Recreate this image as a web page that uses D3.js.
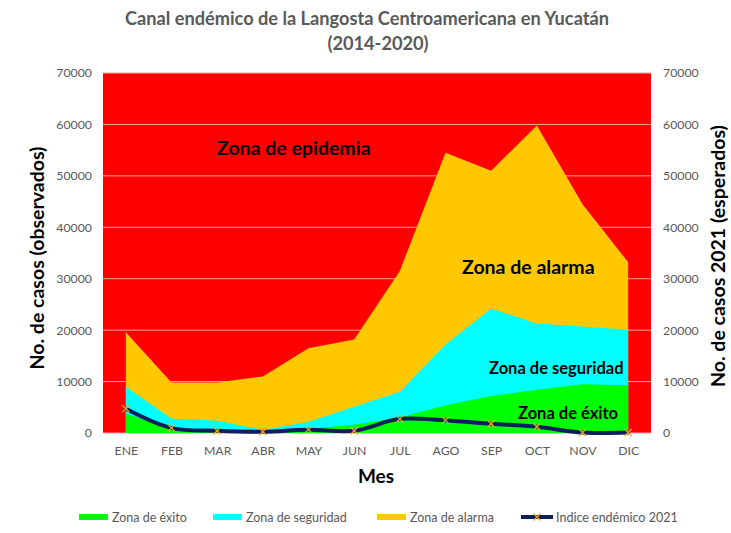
<!DOCTYPE html>
<html><head><meta charset="utf-8">
<script src="https://cdn.jsdelivr.net/npm/d3@7"></script>
<style>
body{margin:0;background:#fff;}
svg{font-family:Lato,"Open Sans",sans-serif;}
</style></head>
<body><svg id="c" width="731" height="533"></svg>
<script>
const months = ["ENE","FEB","MAR","ABR","MAY","JUN","JUL","AGO","SEP","OCT","NOV","DIC"];
const zonaAlarma = [19600,9800,9800,11000,16500,18200,31500,54500,51000,59800,44500,33200];
const zonaSeguridad = [9000,2800,2400,600,2200,5100,8000,17200,24200,21300,20700,20100];
const zonaExito = [3800,700,500,300,850,1600,3000,5400,7200,8400,9500,9300];
const indice2021 = [4700,950,450,250,650,450,2750,2450,1800,1200,100,100];
const yTicks = [0,10000,20000,30000,40000,50000,60000,70000];

const svg = d3.select("#c");
const L=103, R=651, T=73, B=433;
const x = d3.scalePoint().domain(months).range([L,R]).padding(0.5);
const y = d3.scaleLinear().domain([0,70000]).range([B,T]);
const gray="#595959";

// title
svg.append("text").attr("x",367).attr("y",25).attr("text-anchor","middle")
  .attr("font-size",18.2).attr("font-weight","bold").attr("fill",gray)
  .text("Canal endémico de la Langosta Centroamericana en Yucatán");
svg.append("text").attr("x",378).attr("y",50).attr("text-anchor","middle")
  .attr("font-size",18.2).attr("font-weight","bold").attr("fill",gray)
  .text("(2014-2020)");

// background (zona de epidemia)
svg.append("rect").attr("x",L).attr("y",T).attr("width",R-L).attr("height",B-T).attr("fill","#FF0000");
// gridlines
svg.append("g").selectAll("line").data(yTicks).join("line")
  .attr("x1",L).attr("x2",R).attr("y1",d=>y(d)).attr("y2",d=>y(d))
  .attr("stroke","#f7a3a3").attr("stroke-width",1);

const area = d3.area().x((d,i)=>x(months[i])).y0(B).y1(d=>y(d));
svg.append("path").datum(zonaAlarma).attr("d",area).attr("fill","#FFC800");
svg.append("path").datum(zonaSeguridad).attr("d",area).attr("fill","#00FFFF");
svg.append("path").datum(zonaExito).attr("d",area).attr("fill","#00FF00");

// line
const line = d3.line().x((d,i)=>x(months[i])).y(d=>y(d)).curve(d3.curveCatmullRom.alpha(0.5));
svg.append("path").datum(indice2021).attr("d",line).attr("fill","none")
  .attr("stroke","#0B1F5C").attr("stroke-width",4).attr("stroke-linecap","round");
const mk = svg.append("g");
indice2021.forEach((d,i)=>{
  const cx=x(months[i]), cy=y(d), s=3.5;
  mk.append("path").attr("d",`M${cx-s},${cy-s}L${cx+s},${cy+s}M${cx-s},${cy+s}L${cx+s},${cy-s}`)
    .attr("stroke","#F5A21B").attr("stroke-width",1.3);
});

// axes
const yl = d3.axisLeft(y).tickValues(yTicks).tickSize(0).tickPadding(11).tickFormat(d3.format("d"));
const gL = svg.append("g").attr("transform",`translate(${L},0)`).call(yl);
const yr = d3.axisRight(y).tickValues(yTicks).tickSize(0).tickPadding(12).tickFormat(d3.format("d"));
const gR = svg.append("g").attr("transform",`translate(${R},0)`).call(yr);
const xa = d3.axisBottom(x).tickSize(0).tickPadding(13);
const gX = svg.append("g").attr("transform",`translate(0,${B})`).call(xa);
[gL,gR,gX].forEach(g=>{
  g.select(".domain").remove();
  g.selectAll("text").attr("fill",gray).attr("font-size",12.3).attr("font-family","Lato,'Open Sans',sans-serif");
});

// axis titles
svg.append("text").attr("transform","translate(44,258) rotate(-90)").attr("text-anchor","middle")
  .attr("font-size",19.5).attr("font-weight","bold").attr("fill","#000").text("No. de casos (observados)");
svg.append("text").attr("transform","translate(725,256) rotate(-90)").attr("text-anchor","middle")
  .attr("font-size",19.5).attr("font-weight","bold").attr("fill","#000").text("No. de casos 2021 (esperados)");
svg.append("text").attr("x",376).attr("y",483).attr("text-anchor","middle")
  .attr("font-size",19).attr("font-weight","bold").attr("fill","#000").text("Mes");

// zone labels
const zl = (t,xx,yy,fs)=>svg.append("text").attr("x",xx).attr("y",yy).attr("font-size",fs)
  .attr("font-weight","bold").attr("fill","#000").text(t);
zl("Zona de epidemia",217,155,19.5);
zl("Zona de alarma",462,274,19.5);
zl("Zona de seguridad",489,374,16.5);
zl("Zona de éxito",518,419,16.5);

// legend
const lg = svg.append("g").attr("font-size",12.5).attr("fill",gray);
const ly=517;
[["#00FF00",79,"Zona de éxito"],["#00FFFF",213,"Zona de seguridad"],["#FFC800",377,"Zona de alarma"]].forEach(([c,xx,t])=>{
  lg.append("rect").attr("x",xx).attr("y",ly-3).attr("width",29).attr("height",6).attr("fill",c);
  lg.append("text").attr("x",xx+33).attr("y",ly+4.5).attr("fill",gray).text(t);
});
lg.append("line").attr("x1",521).attr("x2",553).attr("y1",ly).attr("y2",ly).attr("stroke","#0B1F5C").attr("stroke-width",4);
lg.append("path").attr("d",`M${537-3.5},${ly-3.5}L${537+3.5},${ly+3.5}M${537-3.5},${ly+3.5}L${537+3.5},${ly-3.5}`)
  .attr("stroke","#F5A21B").attr("stroke-width",1.3);
lg.append("text").attr("x",556).attr("y",ly+4.5).attr("fill",gray).text("Indice endémico 2021");
</script></body></html>
